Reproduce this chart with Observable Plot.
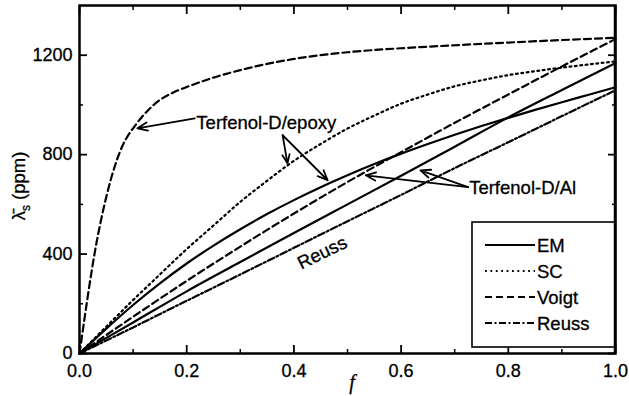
<!DOCTYPE html>
<html><head><meta charset="utf-8">
<script src="https://cdn.jsdelivr.net/npm/d3@7"></script>
<script src="https://cdn.jsdelivr.net/npm/@observablehq/plot@0.6"></script>
<style>
body{margin:0;background:#fff;}
#chart svg{font-family:"Liberation Sans",Arial,sans-serif;}
#chart svg text{stroke:black;stroke-width:0.3px;}
</style>
</head><body><div id="chart"></div>
<script>
// ---- data ----
const fGrid = [0,0.05,0.1,0.15,0.2,0.25,0.3,0.35,0.4,0.45,0.5,0.55,0.6,0.65,0.7,0.75,0.8,0.85,0.9,0.95,1];
const emEpoxy = [0,100,195,282,362,434,500,561,617,669,717,762,804,843,880,915,948,980,1011,1041,1071];
const scEpoxy = [0,108,215,318,420,515,610,695,775,843,905,957,1005,1042,1075,1099,1120,1136,1150,1163,1175];
const voigtEpoxyF = [0,0.01,0.02,0.03,0.04,0.05,0.06,0.07,0.08,0.09,0.1,0.125,0.15,0.175,0.2,0.25,0.3,0.35,0.4,0.5,0.6,0.7,0.8,0.9,1];
const voigtEpoxy = [0,150,295,425,535,630,712,780,835,875,906,972,1020,1050,1072,1110,1140,1165,1185,1212,1228,1240,1251,1261,1270];
const fTenth = [0,0.1,0.2,0.3,0.4,0.5,0.6,0.7,0.8,0.9,1];
const voigtAl = [0,148,292,430,563,690,810,928,1042,1155,1265];
const emAl = [0,125,250,368,485,600,715,832,950,1060,1168];
const reussAl = [0,105,212,318,425,532,638,746,850,955,1059];

const xMajor = [0,0.2,0.4,0.6,0.8,1.0];
const xMinor = [0.1,0.3,0.5,0.7,0.9];
const yMajor = [0,400,800,1200];
const yMinor = [200,600,1000];

const legendLabels = ["EM","SC","Voigt","Reuss"];
const dashes = {EM: null, SC: "1.8,3.6", Voigt: "7,4", Reuss: "7,2.5,2,2.5"};

// annotations (data coordinates)
const epoxyLabel = {x: 0.218, y: 926, text: "Terfenol-D/epoxy"};
const alLabel = {x: 0.727, y: 664, text: "Terfenol-D/Al"};
const reussLabel = {x: 0.453, y: 405, text: "Reuss"};
const arrows = [
  {x1: 0.215, y1: 946, x2: 0.108, y2: 906},
  {x1: 0.379, y1: 878, x2: 0.388, y2: 765},
  {x1: 0.379, y1: 878, x2: 0.463, y2: 697},
  {x1: 0.725, y1: 669, x2: 0.636, y2: 737},
  {x1: 0.725, y1: 669, x2: 0.534, y2: 717}
];

// ---- build table ----
const rows = [];
const add = (fs, vs, model, comp) => fs.forEach((f, i) => rows.push({f, v: vs[i], model, comp}));
add(fGrid, emEpoxy, "EM", "epoxy");
add(fGrid, scEpoxy, "SC", "epoxy");
add(voigtEpoxyF, voigtEpoxy, "Voigt", "epoxy");
add(fTenth, voigtAl, "Voigt", "Al");
add(fTenth, emAl, "EM", "Al");
add(fTenth, reussAl, "Reuss", "Al");

const lineMark = (model, comp) => Plot.line(rows.filter(d => d.model === model && d.comp === comp), {
  x: "f", y: "v", stroke: "black", strokeWidth: 2.2, curve: "monotone-x",
  strokeDasharray: dashes[model]
});

const blank = () => "";
const plot = Plot.plot({
  width: 629, height: 396,
  marginLeft: 79, marginRight: 14, marginTop: 5, marginBottom: 43,
  style: {fontFamily: '"Liberation Sans", Arial, sans-serif', fontSize: "18px", color: "#000", background: "#fff"},
  x: {domain: [0, 1]},
  y: {domain: [0, 1400]},
  marks: [
    Plot.axisX({ticks: xMajor, tickSize: -8, tickPadding: 19, tickFormat: d3.format(".1f"), label: null, strokeWidth: 1.8}),
    Plot.axisX({ticks: xMinor, tickSize: -4, tickFormat: blank, label: null, strokeWidth: 1.5}),
    Plot.axisX({anchor: "top", ticks: xMajor, tickSize: -8, tickFormat: blank, label: null, strokeWidth: 1.8}),
    Plot.axisX({anchor: "top", ticks: xMinor, tickSize: -4, tickFormat: blank, label: null, strokeWidth: 1.5}),
    Plot.axisY({ticks: yMajor, tickSize: -8, tickPadding: 15, tickFormat: d3.format("d"), label: null, strokeWidth: 1.8}),
    Plot.axisY({ticks: yMinor, tickSize: -4, tickFormat: blank, label: null, strokeWidth: 1.5}),
    Plot.axisY({anchor: "right", ticks: yMajor, tickSize: -8, tickFormat: blank, label: null, strokeWidth: 1.8}),
    Plot.axisY({anchor: "right", ticks: yMinor, tickSize: -4, tickFormat: blank, label: null, strokeWidth: 1.5}),
    lineMark("Voigt", "epoxy"),
    lineMark("SC", "epoxy"),
    lineMark("EM", "epoxy"),
    lineMark("Voigt", "Al"),
    lineMark("EM", "Al"),
    lineMark("Reuss", "Al"),
    Plot.arrow(arrows, {x1: "x1", y1: "y1", x2: "x2", y2: "y2", stroke: "black", strokeWidth: 1.8, headLength: 9, headAngle: 45}),
    Plot.text([epoxyLabel, alLabel], {x: "x", y: "y", text: "text", textAnchor: "start", fill: "black", fontSize: 18.5}),
    Plot.text([reussLabel], {x: "x", y: "y", text: "text", rotate: -26, fill: "black", fontSize: 18.5}),
    Plot.frame({stroke: "black", strokeWidth: 2.5})
  ]
});
document.getElementById("chart").appendChild(plot);

const svg = d3.select(plot);
// ---- axis titles ----
const yl = svg.append("text")
  .attr("transform", "translate(25,186) rotate(-90)")
  .attr("text-anchor", "middle")
  .attr("font-size", 18.5)
  .attr("fill", "black");
yl.append("tspan").text("\u03BB\u0304");
yl.append("tspan").attr("font-size", 12).attr("dy", 5).text("s");
yl.append("tspan").attr("dy", -5).text(" (ppm)");

svg.append("text")
  .attr("x", 352).attr("y", 389)
  .attr("text-anchor", "middle")
  .attr("font-family", '"Liberation Serif", serif')
  .attr("font-style", "italic")
  .attr("font-size", 20)
  .attr("fill", "black")
  .text("f");

// ---- legend ----
const lg = svg.append("g");
lg.append("rect").attr("x", 472).attr("y", 222).attr("width", 143).attr("height", 125)
  .attr("fill", "white").attr("stroke", "black").attr("stroke-width", 1.6);
legendLabels.forEach((lab, i) => {
  const yy = 245 + i * 26;
  lg.append("line").attr("x1", 485).attr("x2", 535).attr("y1", yy).attr("y2", yy)
    .attr("stroke", "black").attr("stroke-width", 2.2)
    .attr("stroke-dasharray", dashes[lab]);
  lg.append("text").attr("x", 537).attr("y", yy + 6.5)
    .attr("text-anchor", "start")
    .attr("font-size", 18.5).attr("fill", "black").text(lab);
});
svg.append("line").attr("x1", 615).attr("x2", 615).attr("y1", 5).attr("y2", 353).attr("stroke", "black").attr("stroke-width", 2.5);
</script>
</body></html>
